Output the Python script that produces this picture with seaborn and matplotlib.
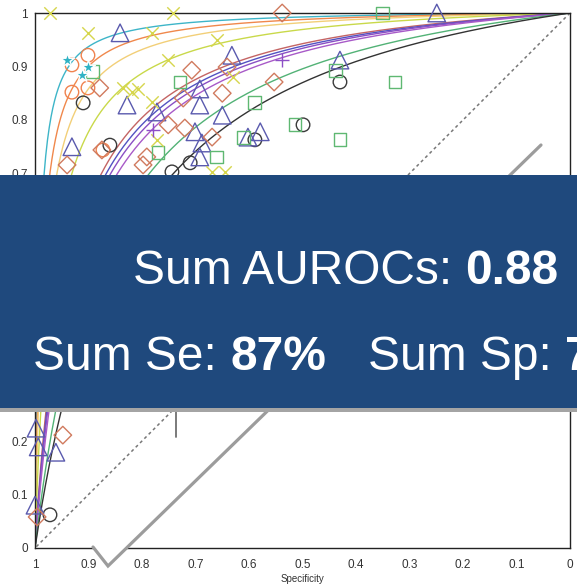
import numpy as np
import pandas as pd
import matplotlib
matplotlib.use("Agg")
import matplotlib.pyplot as plt
import matplotlib.ticker as mticker
from matplotlib.patches import Rectangle, Polygon
from matplotlib.lines import Line2D
import seaborn as sns

# ---------------------------------------------------------------- data
# Summary ROC curves: log diagnostic odds ratio of each pooled curve
curve_log_dor = [4.9, 4.4, 4.0, 3.45, 2.8, 2.72, 2.65, 2.55, 2.15, 1.9]
curve_colors = ["#3db5c8", "#f0884c", "#f2cf78", "#c9d94a", "#c46464",
                "#5252c2", "#8a4fc4", "#a85ac8", "#52b276", "#333333"]

# Individual studies (specificity, sensitivity), grouped by marker
x_spec = [0.972, 0.742, 0.901, 0.781, 0.660, 0.751, 0.630, 0.836, 0.819, 0.807,
          0.781, 0.772, 0.669, 0.645]
x_sens = [1.000, 1.000, 0.963, 0.963, 0.950, 0.912, 0.880, 0.860, 0.852, 0.858,
          0.834, 0.763, 0.703, 0.703]

star_spec = [0.940, 0.912, 0.901]
star_sens = [0.912, 0.884, 0.899]

ocircle_spec = [0.901, 0.931, 0.931, 0.901, 0.873]
ocircle_sens = [0.921, 0.903, 0.852, 0.860, 0.744]

kcircle_spec = [0.910, 0.860, 0.589, 0.430, 0.499, 0.710, 0.744, 0.972, 0.888]
kcircle_sens = [0.832, 0.753, 0.763, 0.871, 0.791, 0.720, 0.703, 0.062, 0.277]

tri_spec = [0.841, 0.632, 0.692, 0.692, 0.650, 0.772, 0.828, 0.931, 0.701, 0.688,
            0.692, 0.602, 0.579, 0.430, 0.249, 0.998, 0.994, 0.961, 1.000]
tri_sens = [0.963, 0.921, 0.858, 0.828, 0.809, 0.815, 0.828, 0.750, 0.778, 0.757,
            0.731, 0.768, 0.778, 0.912, 1.000, 0.224, 0.189, 0.179, 0.080]

dia_spec = [0.538, 0.707, 0.641, 0.553, 0.650, 0.723, 0.751, 0.720, 0.669, 0.879,
            0.940, 0.875, 0.791, 0.798, 0.948, 0.996]
dia_sens = [1.000, 0.893, 0.899, 0.871, 0.850, 0.841, 0.791, 0.785, 0.768, 0.860,
            0.716, 0.744, 0.731, 0.716, 0.211, 0.058]

sq_spec = [0.892, 0.729, 0.350, 0.327, 0.514, 0.430, 0.439, 0.589, 0.611, 0.660, 0.770]
sq_sens = [0.890, 0.871, 1.000, 0.871, 0.791, 0.763, 0.893, 0.832, 0.768, 0.731, 0.740]

plus_spec = [0.538, 0.779]
plus_sens = [0.912, 0.781]

tick_values = [round(v * 0.1, 1) for v in range(11)]

headline = ("Sum AUROCs: ", "0.88")
summary_se = ("Sum Se: ", "87%")
summary_sp = ("Sum Sp: ", "7")

# ---------------------------------------------------------------- figure
W, H, DPI = 577, 585, 100
sns.set_theme(style="white")
plt.rcParams["font.family"] = ["Liberation Sans", "DejaVu Sans"]

fig = plt.figure(figsize=(W / DPI, H / DPI), dpi=DPI, facecolor="white")


def fx(px):
    return px / W


def fy(py):
    return 1 - py / H


ax = fig.add_axes([fx(35), fy(548), fx(570) - fx(35), fy(13) - fy(548)])
ax.set_facecolor("white")

# chance line
sns.lineplot(x=[1, 0], y=[0, 1], ax=ax, color="#777777", lw=1.1,
             linestyle=(0, (2.0, 2.0)))

# summary ROC curves
fpr = np.linspace(0, 1, 600)
for d, c in zip(curve_log_dor, curve_colors):
    odds = np.exp(d)
    sens = fpr * odds / (1 - fpr + fpr * odds)
    df = pd.DataFrame({"spec": 1 - fpr, "sens": sens})
    sns.lineplot(data=df, x="spec", y="sens", ax=ax, color=c, lw=1.0,
                 sort=False, estimator=None)

# study markers
hollow = [
    (ocircle_spec, ocircle_sens, "o", "#f0824e", 95),
    (kcircle_spec, kcircle_sens, "o", "#3a3a3a", 95),
    (tri_spec, tri_sens, "^", "#5a5aae", 160),
    (dia_spec, dia_sens, "D", "#d07a5e", 80),
    (sq_spec, sq_sens, "s", "#5fb872", 85),
]
for xs, ys, m, c, s in hollow:
    sns.scatterplot(x=xs, y=ys, ax=ax, marker=m, s=s, facecolor="none",
                    edgecolor=c, linewidth=1.0, clip_on=False, zorder=3)

lines_only = [
    (x_spec, x_sens, "x", "#d6d64c", 80),
    (star_spec, star_sens, "*", "#2fb2c4", 110),
    (plus_spec, plus_sens, "+", "#8d4fc6", 90),
]
for xs, ys, m, c, s in lines_only:
    sns.scatterplot(x=xs, y=ys, ax=ax, marker=m, s=s, color=c,
                    linewidth=1.0, clip_on=False, zorder=3)

ax.set_xlim(1, 0)
ax.set_ylim(0, 1)
ax.set_xticks(tick_values)
ax.set_yticks(tick_values)
fmt = mticker.FuncFormatter(lambda v, p: "0" if v == 0 else ("1" if v == 1 else f"{v:.1f}"))
ax.xaxis.set_major_formatter(fmt)
ax.yaxis.set_major_formatter(fmt)
ax.tick_params(direction="inout", length=6, width=1, colors="#222222",
               labelsize=8.5, labelcolor="#333333")
ax.tick_params(axis="x", pad=5)
ax.tick_params(axis="y", pad=2)
for sp in ax.spines.values():
    sp.set_visible(True)
    sp.set_color("#222222")
    sp.set_linewidth(1.0)
ax.set_xlabel("Specificity", fontsize=7, color="#333333", labelpad=2)
ax.set_ylabel("")

# ---------------------------------------------------------------- overlay
# pointer outline across the lower part of the plot
fig.add_artist(Polygon([(fx(92), fy(546)), (fx(108), fy(566)), (fx(128), fy(546))],
                       closed=True, transform=fig.transFigure, facecolor="white",
                       edgecolor="none", zorder=5))
fig.add_artist(Line2D([fx(93), fx(108), fx(541)], [fy(547), fy(566), fy(145)],
                      transform=fig.transFigure, color="#9c9c9c", lw=2.3,
                      solid_joinstyle="miter", zorder=6))
fig.add_artist(Line2D([fx(176), fx(176)], [fy(410), fy(437)],
                      transform=fig.transFigure, color="#707070", lw=1.3, zorder=6))

# banner
fig.add_artist(Rectangle((0, fy(412)), 1, fy(408) - fy(412), transform=fig.transFigure,
                         facecolor="#a4a4a4", edgecolor="none", zorder=9))
fig.add_artist(Rectangle((0, fy(408)), 1, fy(175) - fy(408), transform=fig.transFigure,
                         facecolor="#1f497d", edgecolor="none", zorder=10))

renderer = fig.canvas.get_renderer()


def two_part(x_px, base_px, parts, size=34.5):
    x = fx(x_px)
    for txt, weight in zip(parts, ("normal", "bold")):
        t = fig.text(x, fy(base_px), txt, fontsize=size, color="white",
                     fontweight=weight, ha="left", va="baseline", zorder=11)
        bb = t.get_window_extent(renderer)
        x = bb.x1 / fig.bbox.width


two_part(133, 284, headline)
two_part(33, 370, summary_se)
two_part(368, 370, summary_sp)

fig.savefig("out.png", dpi=DPI, facecolor="white")
